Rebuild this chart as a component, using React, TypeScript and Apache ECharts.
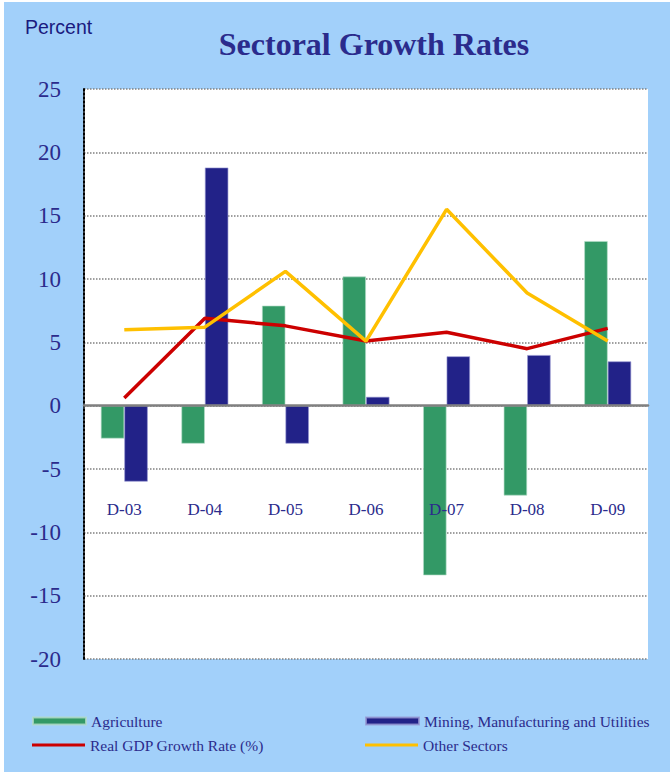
import React, { useEffect, useRef } from "react";
import * as echarts from "echarts";

const categories = ["D-03", "D-04", "D-05", "D-06", "D-07", "D-08", "D-09"];
const agriculture = [-2.6, -3.0, 7.9, 10.2, -13.4, -7.1, 13.0];
const mining = [-6.0, 18.8, -3.0, 0.7, 3.9, 4.0, 3.5];
const realGdp = [0.6, 6.9, 6.3, 5.1, 5.8, 4.5, 6.1];
const otherSectors = [6.0, 6.2, 10.6, 5.1, 15.5, 8.9, 5.1];
const yTicks = { min: -20, max: 25, interval: 5 };

const NAVY_TEXT = "#2B2B8C";
const SERIF = "'Liberation Serif', 'Times New Roman', serif";
const GREEN = "#339966";
const NAVY = "#222288";
const RED = "#CC0000";
const YELLOW = "#FFC000";

export default function App() {
  const ref = useRef<HTMLDivElement>(null);
  useEffect(() => {
    if (!ref.current) return;
    const chart = echarts.init(ref.current, null, { renderer: "svg" });
    const legendText = { color: NAVY_TEXT, fontFamily: SERIF, fontSize: 15.5 };
    chart.setOption({
      animation: false,
      backgroundColor: "#A2D0FA",
      title: {
        text: "Sectoral Growth Rates",
        left: 365,
        top: 21,
        textAlign: "center",
        textStyle: { color: NAVY_TEXT, fontFamily: SERIF, fontSize: 32, fontWeight: "bold" },
      },
      graphic: [
        {
          type: "text",
          x: 21,
          y: 25,
          style: {
            text: "Percent",
            fill: "#1A1A80",
            font: "19.5px 'Liberation Sans', Arial, sans-serif",
            textVerticalAlign: "middle",
          },
        },
      ],
      legend: [
        {
          left: 23, top: 706, itemWidth: 53, itemHeight: 7,
          data: [{ name: "Agriculture", icon: "rect" }], textStyle: legendText,
        },
        {
          left: 356, top: 706, itemWidth: 53, itemHeight: 7,
          data: [{ name: "Mining, Manufacturing and Utilities", icon: "rect" }], textStyle: legendText,
        },
        {
          left: 23, top: 730, itemWidth: 53, itemHeight: 3,
          data: [{ name: "Real GDP Growth Rate (%)", icon: "rect" }], textStyle: legendText,
        },
        {
          left: 356, top: 730, itemWidth: 53, itemHeight: 3,
          data: [{ name: "Other Sectors", icon: "rect" }], textStyle: legendText,
        },
      ],
      grid: {
        left: 80, top: 87, width: 564, height: 570,
        show: true, backgroundColor: "#FFFFFF", borderWidth: 0,
      },
      xAxis: {
        type: "category",
        data: categories,
        axisLine: { onZero: true, lineStyle: { color: "#808080", width: 2.5 } },
        axisTick: { show: false },
        axisLabel: { margin: -158, color: NAVY_TEXT, fontFamily: SERIF, fontSize: 17 },
        z: 10,
      },
      yAxis: {
        type: "value",
        min: yTicks.min,
        max: yTicks.max,
        interval: yTicks.interval,
        axisLine: { show: true, onZero: false, lineStyle: { color: "#000000", type: "dotted", width: 2 } },
        axisTick: { show: false },
        axisLabel: { margin: 23, color: NAVY_TEXT, fontFamily: SERIF, fontSize: 23 },
        splitLine: { show: true, lineStyle: { color: "#808080", type: "dotted", width: 1.5 } },
      },
      series: [
        {
          name: "Agriculture", type: "bar", data: agriculture,
          barWidth: 23.5, barGap: "0%",
          itemStyle: { color: GREEN, borderColor: "rgba(180,220,200,0.8)", borderWidth: 0.8 },
          z: 3,
        },
        {
          name: "Mining, Manufacturing and Utilities", type: "bar", data: mining,
          barWidth: 23.5, barGap: "0%",
          itemStyle: { color: NAVY, borderColor: "rgba(150,150,210,0.8)", borderWidth: 0.8 },
          z: 3,
        },
        {
          name: "Real GDP Growth Rate (%)", type: "line", data: realGdp,
          showSymbol: false, symbol: "none",
          lineStyle: { color: RED, width: 3.5 }, itemStyle: { color: RED }, z: 4,
        },
        {
          name: "Other Sectors", type: "line", data: otherSectors,
          showSymbol: false, symbol: "none",
          lineStyle: { color: YELLOW, width: 3.5 }, itemStyle: { color: YELLOW }, z: 5,
        },
      ],
    });
    return () => chart.dispose();
  }, []);
  return (
    <div style={{ position: "fixed", left: 0, top: 0, width: 670, height: 772, background: "#FFFFFF" }}>
      <div ref={ref} style={{ position: "absolute", left: 4, top: 2, width: 666, height: 770 }} />
    </div>
  );
}
